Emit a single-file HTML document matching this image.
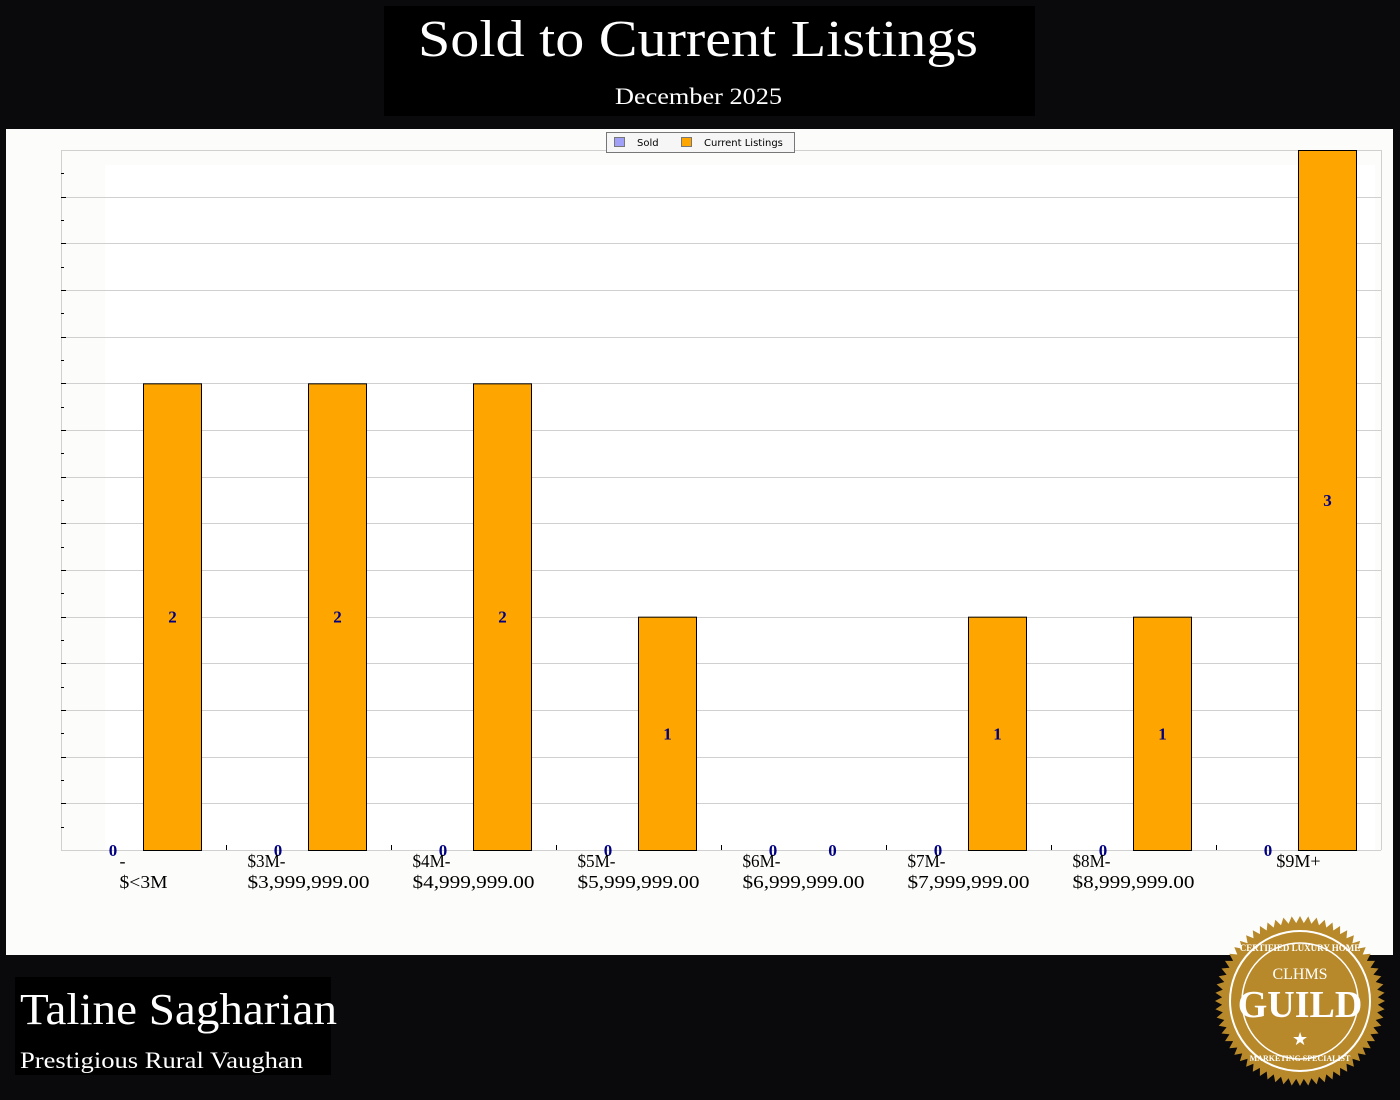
<!DOCTYPE html>
<html><head><meta charset="utf-8"><style>
html,body{margin:0;padding:0;background:#0a090c;width:1400px;height:1100px;overflow:hidden}
</style></head><body>
<svg width="1400" height="1100" xmlns="http://www.w3.org/2000/svg" style="display:block">
<rect x="0" y="0" width="1400" height="1100" fill="#0a090c"/>
<rect x="384" y="6" width="651" height="110" fill="#000"/>
<text x="418" y="56" textLength="560" lengthAdjust="spacingAndGlyphs" font-family="Liberation Serif, serif" font-size="52" fill="#fff">Sold to Current Listings</text>
<text x="615" y="104" textLength="167" lengthAdjust="spacingAndGlyphs" font-family="Liberation Serif, serif" font-size="23" fill="#fff">December 2025</text>
<rect x="6" y="129" width="1387" height="826" fill="#fcfdfa"/>
<rect x="105" y="165" width="1270" height="685" fill="#fff"/>
<g stroke="#d0d0d0" stroke-width="1">
<line x1="61" y1="150.5" x2="1381" y2="150.5"/>
<line x1="61.5" y1="150" x2="61.5" y2="850"/>
<line x1="1381.5" y1="150" x2="1381.5" y2="850"/>
<line x1="61" y1="850.5" x2="1381" y2="850.5"/>
</g>
<g id="grid" stroke="#d0d0d0" stroke-width="1"></g>
<g id="ticks" stroke="#000" stroke-width="1"></g>
<g id="bars"></g>
<g id="labs" font-family="Liberation Serif, serif" font-weight="bold" font-size="17" fill="#000080" text-anchor="middle"></g>
<g id="xl" font-family="Liberation Serif, serif" font-size="18" fill="#000"></g>
<rect x="606.5" y="132.5" width="188" height="20" fill="#f6f6f6" stroke="#777"/>
<rect x="614.5" y="137.5" width="10" height="9" fill="#a0a0f8" stroke="#777"/>
<text x="637" y="146" font-family="DejaVu Sans, sans-serif" font-size="10" fill="#000">Sold</text>
<rect x="681.5" y="137.5" width="10" height="9" fill="#ffa500" stroke="#777"/>
<text x="704" y="146" font-family="DejaVu Sans, sans-serif" font-size="10" fill="#000">Current Listings</text>
<rect x="15" y="977" width="316" height="98" fill="#000"/>
<text x="20" y="1024" textLength="317" lengthAdjust="spacingAndGlyphs" font-family="Liberation Serif, serif" font-size="44" fill="#fff">Taline Sagharian</text>
<text x="20" y="1068" textLength="283" lengthAdjust="spacingAndGlyphs" font-family="Liberation Serif, serif" font-size="23" fill="#fff">Prestigious Rural Vaughan</text>
<g transform="translate(1300,1001)">
<polygon id="seal" fill="#b8892a"/>
<circle r="70" fill="none" stroke="#fff" stroke-width="2"/>
<circle r="58" fill="none" stroke="#fff" stroke-width="1.5"/>
<text y="-22" text-anchor="middle" font-family="Liberation Serif, serif" font-size="16" fill="#fff">CLHMS</text>
<text y="16" text-anchor="middle" font-family="Liberation Serif, serif" font-weight="bold" font-size="38" fill="#fff">GUILD</text>
<text y="44" text-anchor="middle" font-size="18" fill="#fff">★</text>
<text y="-50" text-anchor="middle" font-family="Liberation Serif, serif" font-weight="bold" font-size="9" fill="#fff">CERTIFIED LUXURY HOME</text>
<text y="60" text-anchor="middle" font-family="Liberation Serif, serif" font-weight="bold" font-size="8" fill="#fff">MARKETING SPECIALIST</text>
</g>
</svg>
<script>
var NS="http://www.w3.org/2000/svg";
function el(p,t,a,txt){var e=document.createElementNS(NS,t);for(var k in a)e.setAttribute(k,a[k]);if(txt!=null)e.textContent=txt;document.getElementById(p).appendChild(e);}
for(var i=1;i<15;i++){var y=Math.round(850-i*700/15)+0.5;el('grid','line',{x1:61,y1:y,x2:1381,y2:y});el('ticks','line',{x1:61,y1:y,x2:66,y2:y});}
for(var i=0;i<30;i+=2){var y=Math.round(850-(i+1)*350/15)+0.5;el('ticks','line',{x1:61,y1:y,x2:64,y2:y});}
for(var g=1;g<8;g++){var x=61+g*165+0.5;el('ticks','line',{x1:x,y1:845,x2:x,y2:850});}
var v=[2,2,2,1,0,1,1,3];
var L=[["-","$<3M"],["$3M-","$3,999,999.00"],["$4M-","$4,999,999.00"],["$5M-","$5,999,999.00"],["$6M-","$6,999,999.00"],["$7M-","$7,999,999.00"],["$8M-","$8,999,999.00"],["$9M+",null]];
for(var g=0;g<8;g++){var x0=61+g*165;
 if(v[g]>0){var h=v[g]*700/3;el('bars','rect',{x:x0+82.5,y:850-h+0.5,width:58,height:h,fill:"#ffa500",stroke:"#000","stroke-width":1});
  el('labs','text',{x:x0+111.5,y:850-h/2+6},String(v[g]));}
 else el('labs','text',{x:x0+111.5,y:856},"0");
 el('labs','text',{x:x0+52,y:856},"0");
 var c=x0+82.5;
 if(L[g][1]){var long=L[g][1].length>5;var w=long?122:48;var s=c-w/2;
  el('xl','text',{x:s,y:867,textLength:long?38:6,lengthAdjust:"spacingAndGlyphs"},L[g][0]);
  el('xl','text',{x:s,y:888,textLength:w,lengthAdjust:"spacingAndGlyphs"},L[g][1]);}
 else el('xl','text',{x:c,y:867,"text-anchor":"middle"},L[g][0]);
}
var pts=[];for(var i=0;i<128;i++){var a=i*Math.PI/64,r=i%2?78:85;pts.push((r*Math.sin(a)).toFixed(1)+","+(-r*Math.cos(a)).toFixed(1));}
document.getElementById('seal').setAttribute('points',pts.join(' '));
</script>
</body></html>
